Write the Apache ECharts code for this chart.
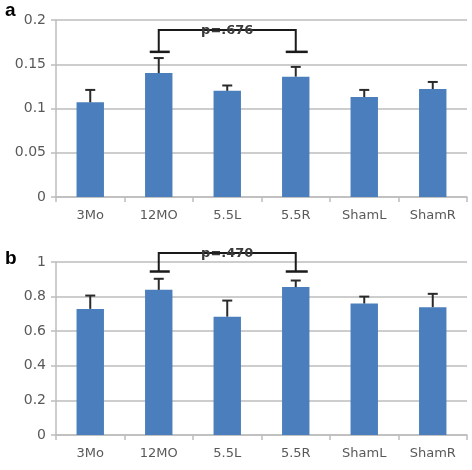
<!DOCTYPE html>
<html><head><meta charset="utf-8">
<script src="https://cdn.jsdelivr.net/npm/echarts@6/dist/echarts.min.js"></script>
<style>html,body{margin:0;padding:0;background:#fff}#c{width:472px;height:470px}</style>
</head><body><div id="c"></div>
<script>
const categories = ['3Mo','12MO','5.5L','5.5R','ShamL','ShamR'];
const valuesA = [0.107, 0.140, 0.120, 0.136, 0.113, 0.122];
const errorsA = [0.014, 0.017, 0.006, 0.011, 0.008, 0.008];
const valuesB = [0.729, 0.839, 0.684, 0.855, 0.760, 0.739];
const errorsB = [0.077, 0.064, 0.093, 0.038, 0.040, 0.077];
const ticksA = {min: 0, max: 0.2, interval: 0.05};
const ticksB = {min: 0, max: 1, interval: 0.2};
// bracket: [fromIndex, toIndex, capValue, topValue], label
const bracketA = [[1, 3, 0.164, 0.1887]];
const bracketLabelA = 'p=.676';
const bracketB = [[1, 3, 0.945, 1.052]];
const bracketLabelB = 'p=.470';

const barColor = '#4a7ebd';
const gridColor = '#bdbdbd';
const labelColor = '#595959';
const font = 'DejaVu Sans';

function xAxis(gi){
  return {type:'category', gridIndex:gi, data:categories,
    axisLine:{lineStyle:{color:gridColor, width:1.5}},
    axisTick:{show:true, length:5, lineStyle:{color:gridColor, width:1.5}},
    axisLabel:{color:labelColor, fontSize:13, fontFamily:font, margin:12}};
}
function yAxis(gi, t){
  return {type:'value', gridIndex:gi, min:t.min, max:t.max, interval:t.interval,
    axisLine:{show:true, lineStyle:{color:gridColor, width:1.5}},
    axisTick:{show:true, length:5, lineStyle:{color:gridColor, width:1.5}},
    splitLine:{lineStyle:{color:gridColor, width:1.5}},
    axisLabel:{color:labelColor, fontSize:14, fontFamily:font, margin:10}};
}
function errSeries(gi, vals, errs){
  return {type:'custom', xAxisIndex:gi, yAxisIndex:gi, z:5,
    data: vals.map((v,i)=>[i, v, errs[i]]),
    renderItem:function(params, api){
      const i = api.value(0), v = api.value(1), e = api.value(2);
      const b = api.coord([i, v]), t = api.coord([i, v+e]);
      const st = {stroke:'#2a2a2a', lineWidth:2};
      return {type:'group', children:[
        {type:'line', shape:{x1:b[0], y1:b[1], x2:t[0], y2:t[1]}, style:st},
        {type:'line', shape:{x1:t[0]-5, y1:t[1], x2:t[0]+5, y2:t[1]}, style:st}
      ]};
    }};
}
function bracketSeries(gi, data, label){
  return {type:'custom', xAxisIndex:gi, yAxisIndex:gi, z:6, clip:false,
    data: data,
    encode:{x:0, y:2},
    renderItem:function(params, api){
      const i1 = api.value(0), i2 = api.value(1), cv = api.value(2), tv = api.value(3);
      const a1 = api.coord([i1, cv]), a2 = api.coord([i1, tv]);
      const b1 = api.coord([i2, cv]), b2 = api.coord([i2, tv]);
      const st = {stroke:'#1a1a1a', lineWidth:2, fill:null};
      return {type:'group', children:[
        {type:'polyline', shape:{points:[a1, a2, b2, b1]}, style:st},
        {type:'line', shape:{x1:a1[0]-9, y1:a1[1], x2:a1[0]+11, y2:a1[1]}, style:{stroke:'#1a1a1a', lineWidth:2.5}},
        {type:'line', shape:{x1:b1[0]-10, y1:b1[1], x2:b1[0]+12, y2:b1[1]}, style:{stroke:'#1a1a1a', lineWidth:2.5}},
        {type:'text', x:(a2[0]+b2[0])/2, y:a2[1]+1, style:{text:label, fill:'#3a3a3a',
          font:'bold 13px "DejaVu Sans"', align:'center', verticalAlign:'middle'}}
      ]};
    }};
}

const chart = echarts.init(document.getElementById('c'), null, {renderer:'canvas'});
chart.setOption({
  animation:false,
  title:[
    {text:'a', left:0, top:-4, textStyle:{fontSize:19, fontWeight:'bold', color:'#000', fontFamily:'Liberation Sans'}},
    {text:'b', left:0, top:244, textStyle:{fontSize:19, fontWeight:'bold', color:'#000', fontFamily:'Liberation Sans'}}
  ],
  grid:[
    {left:56, top:20, width:411, height:177},
    {left:56, top:262, width:411, height:173}
  ],
  xAxis:[xAxis(0), xAxis(1)],
  yAxis:[yAxis(0, ticksA), yAxis(1, ticksB)],
  series:[
    {type:'bar', xAxisIndex:0, yAxisIndex:0, data:valuesA, barWidth:'40%', itemStyle:{color:barColor}},
    errSeries(0, valuesA, errorsA),
    bracketSeries(0, bracketA, bracketLabelA),
    {type:'bar', xAxisIndex:1, yAxisIndex:1, data:valuesB, barWidth:'40%', itemStyle:{color:barColor}},
    errSeries(1, valuesB, errorsB),
    bracketSeries(1, bracketB, bracketLabelB)
  ]
});
</script></body></html>
